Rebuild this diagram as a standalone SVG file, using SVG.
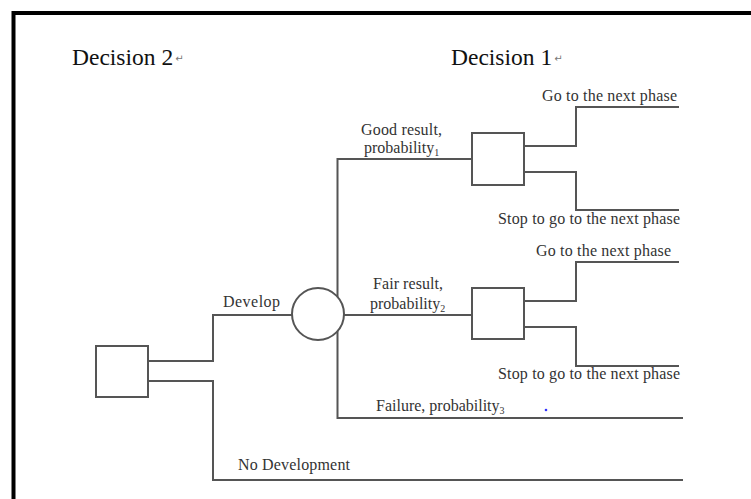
<svg xmlns="http://www.w3.org/2000/svg" width="751" height="499" viewBox="0 0 751 499">
<style>
.ln{fill:none;stroke:#555;stroke-width:2;stroke-linejoin:miter}
.nd{fill:#fff;stroke:#555;stroke-width:2}
.t{font-family:"Liberation Serif","Times New Roman",serif;font-size:16px;fill:#333}
.h{font-family:"Liberation Serif","Times New Roman",serif;font-size:23.5px;fill:#111}
.pm{font-family:"DejaVu Sans",sans-serif;font-size:10px;fill:#777}
.sub{font-size:10px}
</style>
<rect x="0" y="0" width="751" height="499" fill="#fff"/>
<rect x="13.5" y="13" width="760" height="510" fill="none" stroke="#000" stroke-width="4"/>
<g id="connectors">
<path class="ln" d="M148,361 H213 V315 H292"/>
<path class="ln" d="M148,381 H213 V480 H683"/>
<path class="ln" d="M472,159 H337.5 V418 H683"/>
<path class="ln" d="M344,315 H472"/>
<path class="ln" d="M524,146 H576 V107 H679"/>
<path class="ln" d="M524,172 H576 V210 H679"/>
<path class="ln" d="M524,301 H576 V262 H679"/>
<path class="ln" d="M524,327 H576 V366 H679"/>
</g>
<g id="decision2"><rect class="nd" x="96" y="346" width="52" height="51"/></g>
<g id="chance"><circle class="nd" cx="318" cy="314" r="26"/></g>
<g id="decision1a"><rect class="nd" x="472" y="133" width="52" height="52"/></g>
<g id="decision1b"><rect class="nd" x="472" y="288" width="52" height="51"/></g>
<g id="labels">
<text class="h" x="72" y="65">Decision 2<tspan class="pm" dx="2" dy="-3">↵</tspan></text>
<text class="h" x="451" y="65">Decision 1<tspan class="pm" dx="2" dy="-3">↵</tspan></text>
<text class="t" x="542" y="101" textLength="135">Go to the next phase</text>
<text class="t" x="361" y="135" textLength="81">Good result,</text>
<text class="t" x="364" y="153">probability<tspan class="sub" dy="3">1</tspan></text>
<text class="t" x="498" y="224" textLength="182">Stop to go to the next phase</text>
<text class="t" x="536" y="256" textLength="135">Go to the next phase</text>
<text class="t" x="373" y="289" textLength="70">Fair result,</text>
<text class="t" x="370" y="309">probability<tspan class="sub" dy="3">2</tspan></text>
<text class="t" x="498" y="379" textLength="182">Stop to go to the next phase</text>
<text class="t" x="376" y="411">Failure, probability<tspan class="sub" dy="3">3</tspan></text>
<text class="t" x="223" y="307" textLength="57">Develop</text>
<text class="t" x="238" y="470" textLength="112">No Development</text>
</g>
<circle cx="546" cy="410" r="1.3" fill="#33f"/>
</svg>
